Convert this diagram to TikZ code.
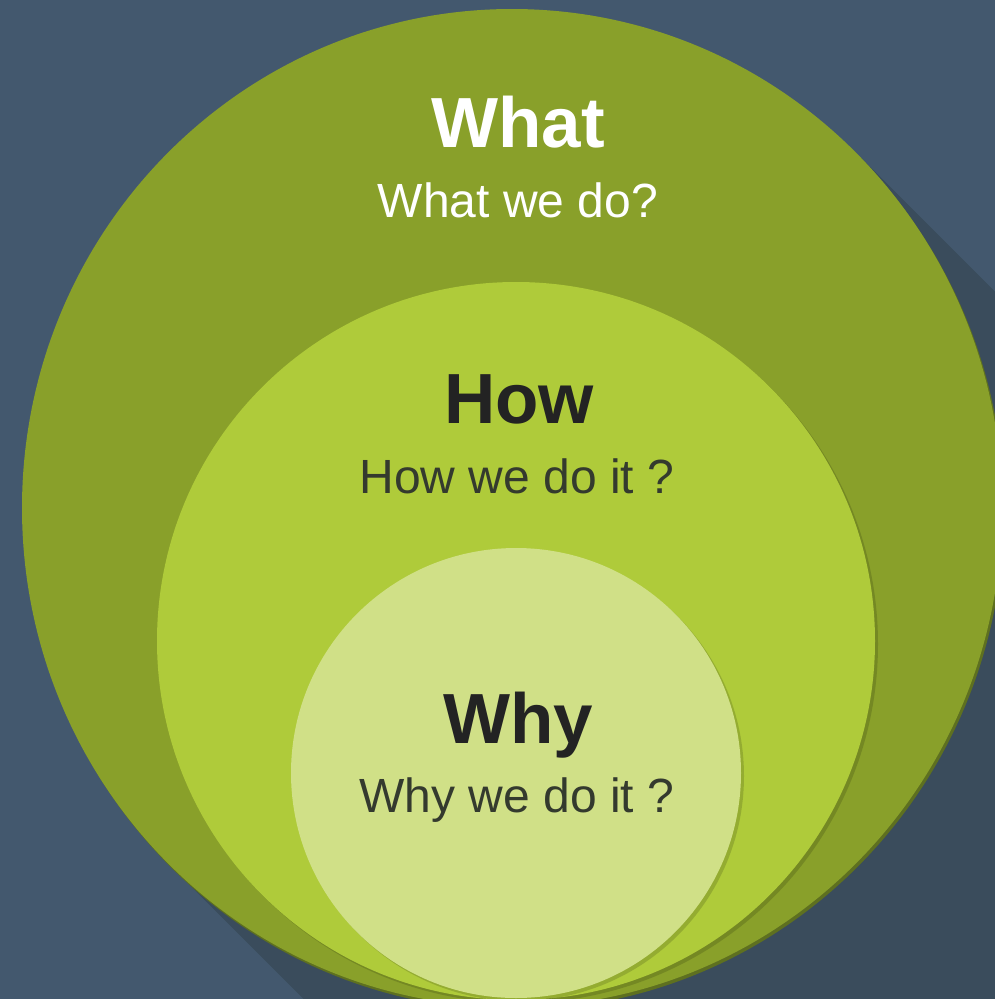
\documentclass[tikz,border=0pt]{standalone}
\usepackage{fontspec}
\setmainfont{Liberation Sans}
\usetikzlibrary{calc,shapes.geometric}
\definecolor{bgblue}{HTML}{43586E}
\definecolor{longshadow}{HTML}{3A4C5C}
\definecolor{olive}{HTML}{89A02A}
\definecolor{olivedark}{HTML}{5E7020}
\definecolor{lime}{HTML}{AFCB3A}
\definecolor{pale}{HTML}{D0E087}
\definecolor{ink}{HTML}{232323}
\definecolor{inksub}{HTML}{343A2E}
\tikzset{
  disc/.style={circle, inner sep=0pt, outer sep=0pt, draw=none},
  oval/.style={ellipse, inner sep=0pt, outer sep=0pt, draw=none},
  title/.style={anchor=base, inner sep=0pt, font=\bfseries\fontsize{71}{80}\selectfont},
  subtitle/.style={anchor=base, inner sep=0pt, font=\fontsize{48}{56}\selectfont},
  rim/.style={fill=black, fill opacity=0.15}
}
\begin{document}
\begin{tikzpicture}[x=1pt,y=-1pt]
\useasboundingbox (0,0) rectangle (995,999);
\clip (0,0) rectangle (995,999);
\fill[bgblue] (0,0) rectangle (995,999);
% long shadow of the outer circle
\coordinate (up) at (855.4,152.1);
\coordinate (lo) at (168.6,863.9);
\fill[longshadow] (up) -- ++(1000,1000) -- ($(lo)+(1000,1000)$) -- (lo) -- cycle;
% outer circle
\fill[olivedark] (514,511) ellipse[x radius=490pt, y radius=499pt];
\node[oval, fill=olive, minimum width=980pt, minimum height=998pt] (outer) at (512,508) {};
% middle circle
\fill[rim] (519,644) circle[radius=359pt];
\node[disc, fill=lime, minimum size=718pt] (middle) at (516,641) {};
% inner circle
\fill[rim] (519,776) circle[radius=225pt];
\node[disc, fill=pale, minimum size=450pt] (inner) at (516,773) {};
% texts
\node[title, text=white] (what) at (518,147) {What};
\node[subtitle, text=white] (whatsub) at (518,217) {What we do?};
\node[title, text=ink] (how) at (519,423) {How};
\node[subtitle, text=inksub] (howsub) at (517,493) {How we do it ?};
\node[title, text=ink] (why) at (518,743) {Why};
\node[subtitle, text=inksub] (whysub) at (517,812) {Why we do it ?};
\end{tikzpicture}
\end{document}
